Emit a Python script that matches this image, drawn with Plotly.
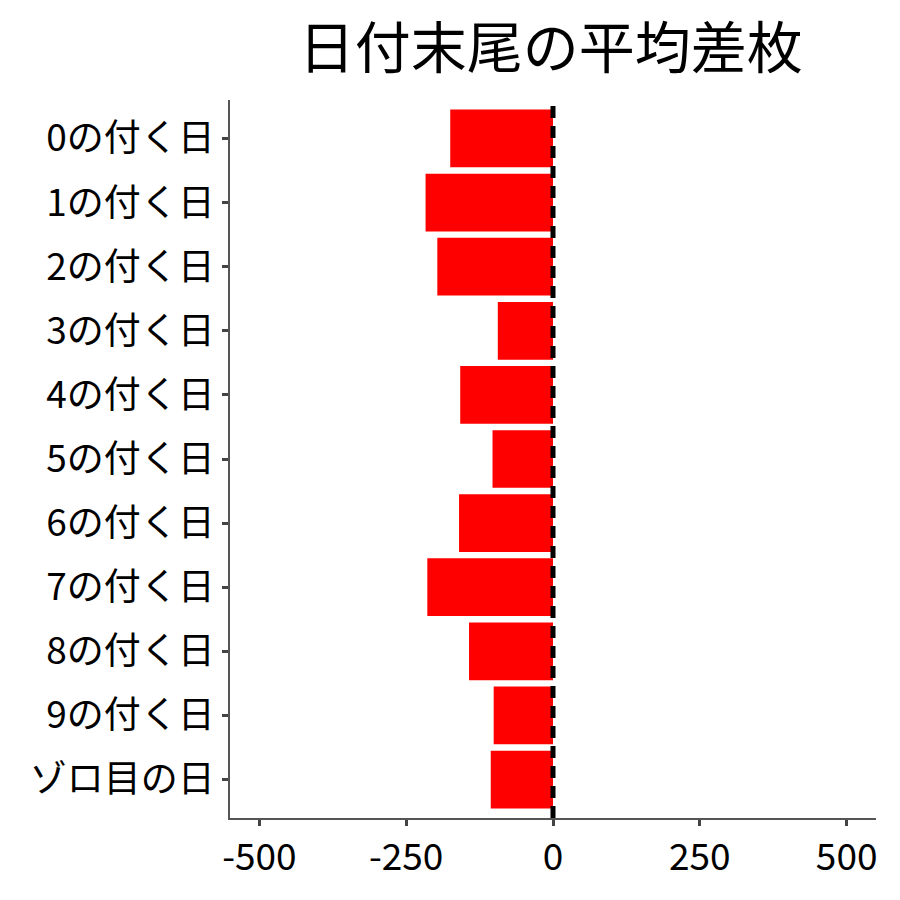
import plotly.graph_objects as go

days = ['0の付く日', '1の付く日', '2の付く日', '3の付く日', '4の付く日', '5の付く日',
        '6の付く日', '7の付く日', '8の付く日', '9の付く日', 'ゾロ目の日']
avg_diff = [-175, -217, -197, -94, -158, -103, -160, -214, -143, -101, -106]
x_ticks = [-500, -250, 0, 250, 500]
x_labels = ['-500', '-250', '0', '250', '500']

fig = go.Figure()
fig.add_trace(go.Bar(x=avg_diff, y=days, orientation='h',
                     marker=dict(color='#FF0000', line=dict(width=0)), width=0.9))
fig.add_vline(x=0, line=dict(color='black', width=5, dash='12px,8px'))

fig.update_layout(
    width=900, height=900,
    plot_bgcolor='white', paper_bgcolor='white',
    font=dict(family='Noto Sans CJK JP', color='black'),
    title=dict(text='日付末尾の平均差枚', x=0.603, xanchor='center', y=0.955, yanchor='middle',
               font=dict(size=56, color='black')),
    margin=dict(l=222, r=32, t=92, b=90),
    showlegend=False,
)
fig.update_xaxes(range=[-550, 550], tickvals=x_ticks, ticktext=x_labels,
                 showgrid=False, zeroline=False,
                 showline=True, linecolor='#555555', linewidth=1.5,
                 ticks='outside', ticklen=6, tickwidth=2.5, tickcolor='#444444',
                 tickfont=dict(size=37, color='black'))
fig.update_yaxes(categoryorder='array', categoryarray=days, range=[10.6, -0.6],
                 showgrid=False, zeroline=False,
                 showline=True, linecolor='#555555', linewidth=1.5,
                 ticks='outside', ticklen=6, tickwidth=2.5, tickcolor='#444444',
                 tickfont=dict(size=37, color='black'))

fig.write_html('out.html')
